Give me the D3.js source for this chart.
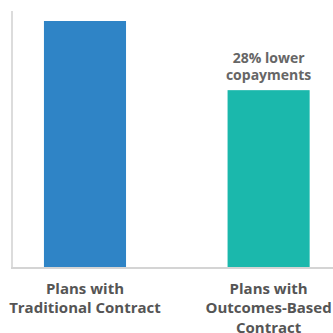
<!DOCTYPE html>
<html><head><meta charset="utf-8">
<script src="https://cdn.jsdelivr.net/npm/d3@7"></script>
<style>html,body{margin:0;padding:0;background:#fff;}svg{display:block;}</style>
</head><body>
<script>
const categories = [["Plans with","Traditional Contract"],["Plans with","Outcomes-Based","Contract"]];
const values = [100, 72];
const colors = ["#2F84C6", "#1BB8AC"];
const annotation = ["28% lower","copayments"];

const W = 333, H = 333;
const svg = d3.select("body").append("svg").attr("width", W).attr("height", H);

const x = d3.scaleBand().domain(d3.range(values.length)).range([12, 341.6])
  .paddingInner(0.553).paddingOuter(0.174);
const y = d3.scaleLinear().domain([0, 100]).range([268, 21]);

// axis lines
svg.append("line").attr("x1", 12).attr("x2", 12).attr("y1", 11).attr("y2", 268)
  .attr("stroke", "#dcdcdc").attr("stroke-width", 2);
svg.append("line").attr("x1", 11).attr("x2", 333).attr("y1", 268).attr("y2", 268)
  .attr("stroke", "#d4d4d4").attr("stroke-width", 2);

svg.selectAll("rect.bar").data(values).enter().append("rect")
  .attr("class","bar")
  .attr("x", (d,i) => x(i)).attr("width", x.bandwidth())
  .attr("y", d => y(d)).attr("height", d => y(0) - y(d) - 1)
  .attr("fill", (d,i) => colors[i]);

// category labels
categories.forEach((lines, i) => {
  const t = svg.append("text").attr("text-anchor","middle")
    .attr("font-family","'Open Sans', sans-serif").attr("font-weight","bold")
    .attr("font-size", 15).attr("fill","#555");
  lines.forEach((l, j) => t.append("tspan").attr("x", x(i) + x.bandwidth()/2)
    .attr("y", 293.5 + j*19.5).text(l));
});

// annotation
const a = svg.append("text").attr("text-anchor","middle")
  .attr("font-family","'Open Sans', sans-serif").attr("font-weight","bold")
  .attr("font-size", 14).attr("fill","#666");
annotation.forEach((l, j) => a.append("tspan").attr("x", x(1) + x.bandwidth()/2)
  .attr("y", 62.5 + j*17.5).text(l));
</script>
</body></html>
